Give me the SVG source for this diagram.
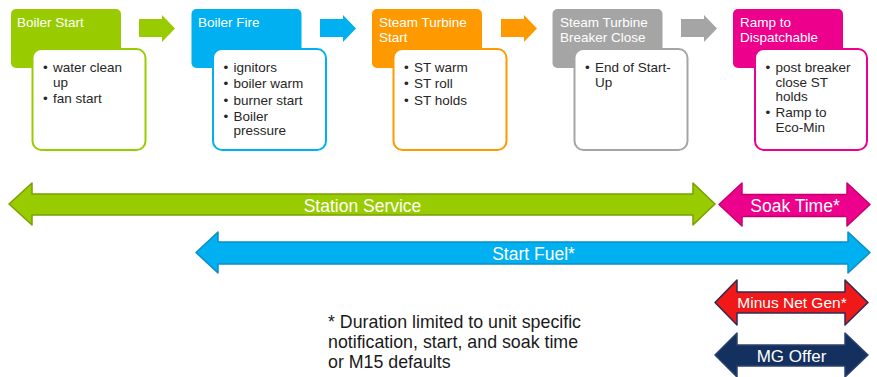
<svg xmlns="http://www.w3.org/2000/svg" width="877" height="377" viewBox="0 0 877 377">
<style>
  text { font-family: "Liberation Sans", Arial, sans-serif; }
  .hdr { stroke: none; }
  .box { fill: #ffffff; stroke-width: 2; }
  .ttl { fill: #ffffff; font-size: 13.5px; }
  .bul { fill: #262626; font-size: 13.5px; }
  .bar { font-size: 17.5px; fill: #ffffff; text-anchor: middle; }
  .note { fill: #1a1a1a; font-size: 17.8px; }
  .green { fill: #99cc00; }
  .blue { fill: #00b0f0; }
  .orange { fill: #ff9900; }
  .gray { fill: #a5a5a5; }
  .pink { fill: #ec008c; }
</style>

<g id="connectors">
  <polygon class="green" points="139,19 162,19 162,15 175,28.5 162,42 162,37 139,37"/>
  <polygon class="blue" points="320,19 343,19 343,15 356,28.5 343,42 343,37 320,37"/>
  <polygon class="orange" points="501,19 524,19 524,15 537,28.5 524,42 524,37 501,37"/>
  <polygon class="gray" points="681,19 704,19 704,15 717,28.5 704,42 704,37 681,37"/>
</g>

<g id="node-boiler-start">
  <rect class="hdr green" x="11" y="9" width="110" height="59" rx="5"/>
  <rect class="box" x="32.5" y="49" width="113" height="101" rx="9" stroke="#99cc00"/>
  <text class="ttl" x="17" y="27">Boiler Start</text>
  <text class="bul"><tspan x="43" y="72">•</tspan><tspan x="53" y="72">water clean</tspan><tspan x="53" y="86.5">up</tspan><tspan x="43" y="102.8">•</tspan><tspan x="53" y="102.8">fan start</tspan></text>
</g>

<g id="node-boiler-fire">
  <rect class="hdr blue" x="191.5" y="9" width="110" height="59" rx="5"/>
  <rect class="box" x="213" y="49" width="113" height="101" rx="9" stroke="#00b0f0"/>
  <text class="ttl" x="198" y="27">Boiler Fire</text>
  <text class="bul"><tspan x="223.5" y="72">•</tspan><tspan x="233.5" y="72">ignitors</tspan><tspan x="223.5" y="88.3">•</tspan><tspan x="233.5" y="88.3">boiler warm</tspan><tspan x="223.5" y="104.6">•</tspan><tspan x="233.5" y="104.6">burner start</tspan><tspan x="223.5" y="120.9">•</tspan><tspan x="233.5" y="120.9">Boiler</tspan><tspan x="233.5" y="135.4">pressure</tspan></text>
</g>

<g id="node-steam-turbine-start">
  <rect class="hdr orange" x="372" y="9" width="110" height="59" rx="5"/>
  <rect class="box" x="393.5" y="49" width="113" height="101" rx="9" stroke="#ff9900"/>
  <text class="ttl"><tspan x="379" y="27">Steam Turbine</tspan><tspan x="379" y="42">Start</tspan></text>
  <text class="bul"><tspan x="404" y="72">•</tspan><tspan x="414" y="72">ST warm</tspan><tspan x="404" y="88.3">•</tspan><tspan x="414" y="88.3">ST roll</tspan><tspan x="404" y="104.6">•</tspan><tspan x="414" y="104.6">ST holds</tspan></text>
</g>

<g id="node-steam-turbine-breaker-close">
  <rect class="hdr gray" x="552.5" y="9" width="110" height="59" rx="5"/>
  <rect class="box" x="574.5" y="49" width="113" height="101" rx="9" stroke="#a5a5a5"/>
  <text class="ttl"><tspan x="560" y="27">Steam Turbine</tspan><tspan x="560" y="42">Breaker Close</tspan></text>
  <text class="bul"><tspan x="585" y="72">•</tspan><tspan x="595" y="72">End of Start-</tspan><tspan x="595" y="86.5">Up</tspan></text>
</g>

<g id="node-ramp-to-dispatchable">
  <rect class="hdr pink" x="733" y="9" width="110" height="59" rx="5"/>
  <rect class="box" x="755" y="49" width="112" height="101" rx="9" stroke="#ec008c"/>
  <text class="ttl"><tspan x="740" y="27">Ramp to</tspan><tspan x="740" y="42">Dispatchable</tspan></text>
  <text class="bul"><tspan x="765.5" y="72">•</tspan><tspan x="775.5" y="72">post breaker</tspan><tspan x="775.5" y="86.5">close ST</tspan><tspan x="775.5" y="101">holds</tspan><tspan x="765.5" y="117.3">•</tspan><tspan x="775.5" y="117.3">Ramp to</tspan><tspan x="775.5" y="131.8">Eco-Min</tspan></text>
</g>

<g id="bar-station-service">
  <polygon points="9,204 32,183 32,194 693,194 693,183 715,204 693,225 693,215 32,215 32,225" fill="#99cc00" stroke="#78a000" stroke-width="1.5" stroke-linejoin="round"/>
  <text class="bar" x="362.5" y="211.5">Station Service</text>
</g>

<g id="bar-soak-time">
  <polygon points="719,204.5 742,183 742,194.5 847,194.5 847,183 870,204.5 847,226 847,216.5 742,216.5 742,226" fill="#ec008c" stroke="#c8006f" stroke-width="1.5" stroke-linejoin="round"/>
  <text class="bar" x="795" y="211.5">Soak Time*</text>
</g>

<g id="bar-start-fuel">
  <polygon points="196,252.5 218,232 218,242 848,242 848,232 870,252.5 848,273 848,264 218,264 218,273" fill="#00b0f0" stroke="#0b8fc4" stroke-width="1.5" stroke-linejoin="round"/>
  <text class="bar" x="533.5" y="259.5">Start Fuel*</text>
</g>

<g id="bar-minus-net-gen">
  <polygon points="715,302.5 737,280 737,292 845,292 845,280 868,302.5 845,325 845,313 737,313 737,325" fill="#f01818" stroke="#2b2b55" stroke-width="1.5" stroke-linejoin="round"/>
  <text class="bar" x="792" y="308" style="font-size:15.5px">Minus Net Gen*</text>
</g>

<g id="bar-mg-offer">
  <polygon points="715,355 737,333 737,345 845,345 845,333 868,355 845,377 845,366 737,366 737,377" fill="#14305e" stroke="#2b4270" stroke-width="1.5" stroke-linejoin="round"/>
  <text class="bar" x="791.5" y="362" style="font-size:17px">MG Offer</text>
</g>

<g id="footnote">
  <text class="note"><tspan x="328" y="328">* Duration limited to unit specific</tspan><tspan x="328" y="348">notification, start, and soak time</tspan><tspan x="328" y="368">or M15 defaults</tspan></text>
</g>
</svg>
